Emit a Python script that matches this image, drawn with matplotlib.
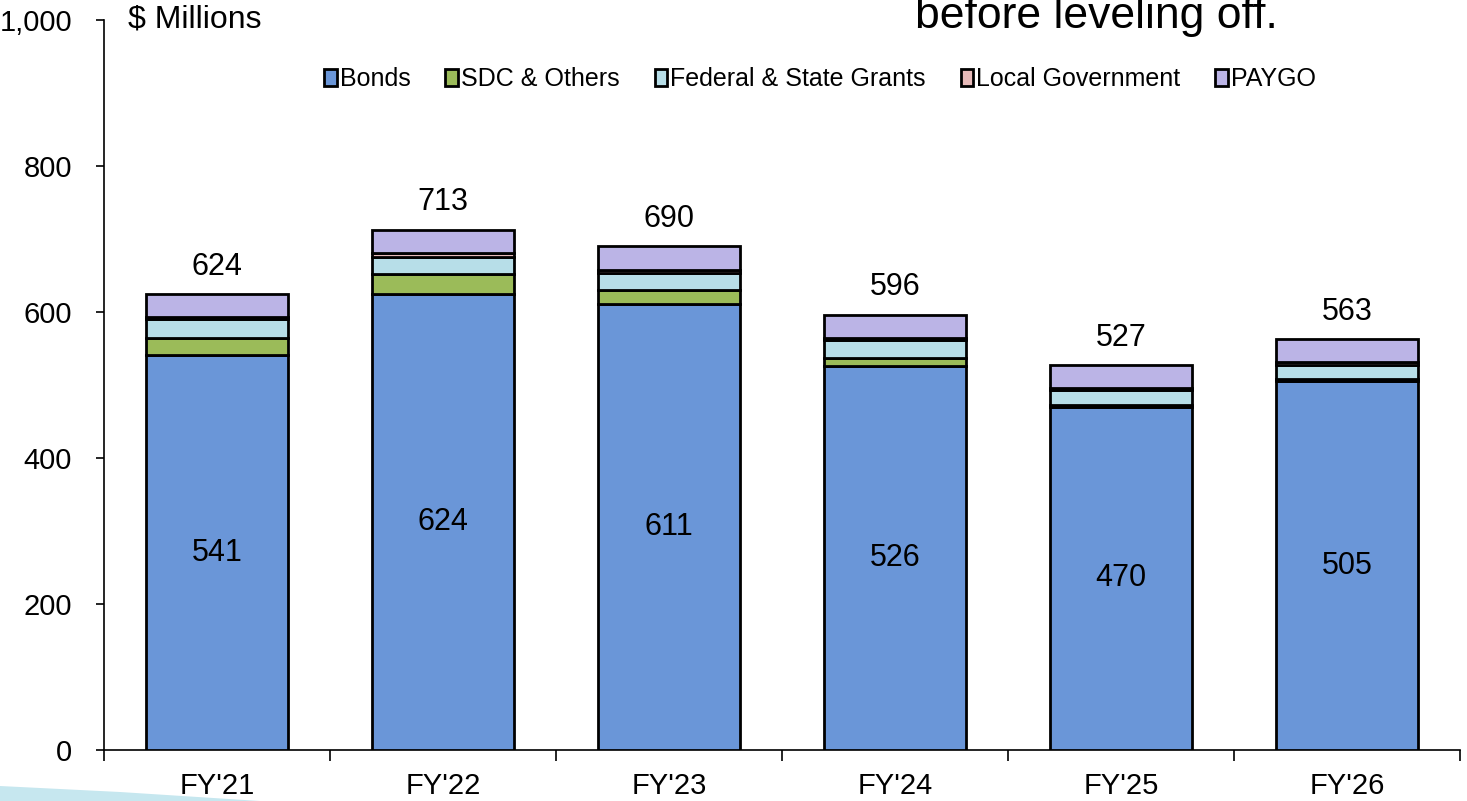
import matplotlib
matplotlib.use("Agg")
import matplotlib.pyplot as plt
import numpy as np
from matplotlib.patches import Polygon

plt.rcParams['font.family'] = ['Liberation Sans', 'DejaVu Sans']

years = ["FY'21", "FY'22", "FY'23", "FY'24", "FY'25", "FY'26"]
bonds = [541, 624, 611, 526, 470, 505]
sdc_others = [24, 28, 19, 11, 3, 3]
grants = [25, 24, 24, 25, 20, 20]
local_gov = [3, 5, 3, 3, 3, 4]
paygo = [31, 32, 33, 31, 31, 31]
totals = [624, 713, 690, 596, 527, 563]

series = [
    ("Bonds", bonds, "#6A96D8"),
    ("SDC & Others", sdc_others, "#9BBB59"),
    ("Federal & State Grants", grants, "#B7DEE8"),
    ("Local Government", local_gov, "#E6B9B8"),
    ("PAYGO", paygo, "#BBB4E6"),
]

fig = plt.figure(figsize=(14.67, 8.01), dpi=100)
ax = fig.add_axes([104 / 1467, 51 / 801, (1460 - 104) / 1467, 730 / 801])

x = np.arange(len(years))
bottom = np.zeros(len(years))
handles = []
for name, vals, color in series:
    b = ax.bar(x, vals, width=0.63, bottom=bottom, color=color,
               edgecolor="black", linewidth=2.0, label=name, zorder=3)
    handles.append(b)
    bottom += np.array(vals)

# Bond values in the middle of the blue segment
for xi, v in zip(x, bonds):
    ax.text(xi, v / 2, f"{v}", ha="center", va="center", fontsize=22)

# Totals above each stack
for xi, t in zip(x, totals):
    ax.annotate(f"{t}", (xi, t), xytext=(0, 9), textcoords="offset points",
                ha="center", va="bottom", fontsize=22)

ax.set_ylim(0, 1000)
ax.set_xlim(-0.5, len(years) - 0.5)
ax.set_yticks(range(0, 1001, 200))
ax.set_yticklabels([f"{v:,}" for v in range(0, 1001, 200)], fontsize=21)
ax.tick_params(axis="y", direction="out", length=6, width=1.2, pad=17)

ax.set_xticks(np.arange(-0.5, len(years), 1.0))
ax.set_xticklabels([])
ax.tick_params(axis="x", which="major", direction="out", length=8, width=1.2)
ax.set_xticks(x, minor=True)
ax.set_xticklabels(years, minor=True, fontsize=21)
ax.tick_params(axis="x", which="minor", length=0, pad=16)

for side in ("top", "right"):
    ax.spines[side].set_visible(False)
for side in ("left", "bottom"):
    ax.spines[side].set_linewidth(1.2)

ax.text(0.018, 1.0, "$ Millions", transform=ax.transAxes, fontsize=23,
        ha="left", va="center")

leg = ax.legend(handles=handles, loc="center", ncol=5, frameon=False,
                fontsize=18, bbox_to_anchor=(0.528, 0.919), handlelength=0.5,
                handleheight=0.7, handletextpad=0.12, columnspacing=1.4)

fig.text(915 / 1467, 1 - 28 / 801, "before leveling off.", fontsize=32,
         ha="left", va="baseline")

# Decorative swoosh along the lower-left edge
swoosh = Polygon([[0, 1 - 786 / 801], [0, 0], [260 / 1467, 0],
                  [120 / 1467, 1 - 792 / 801]], closed=True,
                 transform=fig.transFigure, facecolor="#C6E7EF",
                 edgecolor="none", zorder=0)
fig.patches.append(swoosh)

fig.savefig("out.png", dpi=100)
